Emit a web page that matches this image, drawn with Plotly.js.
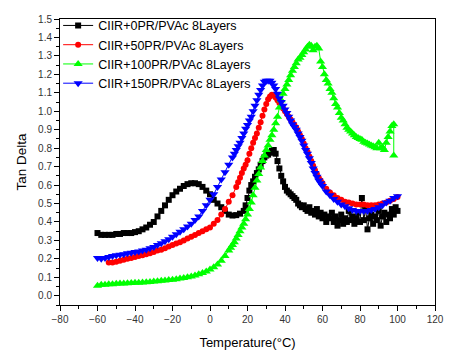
<!DOCTYPE html>
<html>
<head>
<meta charset="utf-8">
<script src="https://cdn.plot.ly/plotly-3.0.1.min.js"></script>
<style>html,body{margin:0;padding:0;background:#fff;}#chart{width:469px;height:361px;}</style>
</head>
<body>
<div id="chart"></div>
<script>
// ---- data ----
const seriesNames = ["CIIR+0PR/PVAc 8Layers","CIIR+50PR/PVAc 8Layers","CIIR+100PR/PVAc 8Layers","CIIR+150PR/PVAc 8Layers"];

const x0 = [-60,-58,-56,-54,-52,-50,-48,-46,-44,-42,-40,-38,-36,-34,-32,-30,-28,-26,-24,-22,-20,-18,-16,-14,-12,-10,-8,-6,-4,-2,0,2,4,6,8,10,12,14,16,18,19,20,21,22,23,24,25,26,27,28,29,30,31,32,33,34,35,36,37,38,39,40,41,42,43,44,45,46,47,48,49,50,51,52,53,54,55,56,57,58,59,60,61,62,63,64,65,66,67,68,69,70,71,72,73,74,75,76,77,78,79,80,81,82,83,84,85,86,87,88,89,90,91,92,93,94,95,96,97,98,99,100];
const y0 = [0.34,0.33,0.33,0.33,0.33,0.335,0.335,0.34,0.34,0.34,0.345,0.35,0.36,0.37,0.385,0.40,0.43,0.46,0.49,0.52,0.545,0.565,0.58,0.595,0.605,0.61,0.61,0.605,0.59,0.57,0.55,0.52,0.50,0.48,0.46,0.44,0.435,0.437,0.445,0.46,0.49,0.53,0.57,0.60,0.62,0.645,0.665,0.685,0.71,0.73,0.75,0.76,0.765,0.775,0.785,0.79,0.77,0.73,0.69,0.65,0.62,0.59,0.57,0.56,0.55,0.54,0.53,0.52,0.50,0.49,0.48,0.49,0.47,0.46,0.48,0.45,0.46,0.44,0.47,0.43,0.45,0.42,0.44,0.40,0.43,0.42,0.45,0.40,0.43,0.38,0.41,0.44,0.39,0.42,0.40,0.46,0.41,0.43,0.39,0.42,0.45,0.40,0.53,0.41,0.47,0.36,0.42,0.44,0.39,0.43,0.41,0.46,0.38,0.43,0.45,0.40,0.44,0.42,0.47,0.44,0.48,0.46];

const x50 = [-54,-52,-50,-48,-46,-44,-42,-40,-38,-36,-34,-32,-30,-28,-26,-24,-22,-20,-18,-16,-14,-12,-10,-8,-6,-4,-2,0,2,4,6,8,10,12,14,15,16,17,18,19,20,21,22,23,24,25,26,27,28,29,30,31,32,33,34,35,36,37,38,39,40,41,42,43,44,45,46,47,48,49,50,51,52,53,54,55,56,57,58,59,60,62,64,66,68,70,72,74,76,78,80,82,84,86,88,90,92,94,96,98,100];
const y50 = [0.18,0.18,0.185,0.19,0.195,0.2,0.205,0.21,0.215,0.22,0.225,0.23,0.237,0.245,0.25,0.258,0.267,0.275,0.283,0.29,0.30,0.31,0.32,0.33,0.34,0.35,0.36,0.37,0.39,0.41,0.44,0.47,0.51,0.545,0.59,0.615,0.64,0.665,0.69,0.71,0.735,0.77,0.80,0.83,0.855,0.88,0.91,0.94,0.975,1.01,1.04,1.065,1.08,1.09,1.085,1.075,1.06,1.045,1.03,1.015,1.0,0.985,0.97,0.955,0.94,0.925,0.91,0.89,0.87,0.85,0.825,0.80,0.78,0.755,0.73,0.705,0.68,0.66,0.64,0.625,0.61,0.58,0.56,0.545,0.53,0.52,0.51,0.505,0.50,0.495,0.495,0.495,0.49,0.49,0.49,0.495,0.50,0.505,0.515,0.525,0.535];

const x100 = [-60,-58,-56,-54,-52,-50,-48,-46,-44,-42,-40,-38,-36,-34,-32,-30,-28,-26,-24,-22,-20,-18,-16,-14,-12,-10,-8,-6,-4,-2,0,2,4,6,8,10,11,12,13,14,15,16,17,18,19,20,21,22,23,24,25,26,27,28,29,30,31,32,33,34,35,36,37,38,39,40,41,42,43,44,45,46,47,48,49,50,51,52,53,54,55,56,57,58,59,60,61,62,63,64,65,66,67,68,69,70,71,72,73,74,75,76,77,78,79,80,81,82,83,84,85,86,87,88,89,90,91,92,93,94,95,96,97,98,98];
const y100 = [0.055,0.06,0.06,0.062,0.063,0.065,0.066,0.067,0.068,0.069,0.07,0.071,0.072,0.073,0.075,0.077,0.079,0.081,0.083,0.085,0.087,0.09,0.093,0.096,0.1,0.104,0.11,0.116,0.123,0.132,0.142,0.155,0.17,0.19,0.215,0.245,0.26,0.275,0.29,0.31,0.33,0.35,0.37,0.39,0.415,0.44,0.47,0.505,0.545,0.585,0.625,0.66,0.695,0.73,0.76,0.79,0.815,0.845,0.87,0.9,0.935,0.97,1.02,1.06,1.095,1.12,1.145,1.17,1.195,1.22,1.24,1.26,1.28,1.29,1.305,1.32,1.335,1.35,1.36,1.355,1.33,1.35,1.355,1.34,1.27,1.24,1.2,1.17,1.15,1.12,1.1,1.07,1.04,1.02,0.99,0.965,0.95,0.93,0.91,0.9,0.89,0.88,0.87,0.86,0.855,0.85,0.845,0.835,0.83,0.825,0.82,0.815,0.81,0.805,0.80,0.83,0.80,0.805,0.79,0.83,0.86,0.89,0.92,0.93,0.76];

const x150 = [-60,-58,-56,-54,-52,-50,-48,-46,-44,-42,-40,-38,-36,-34,-32,-30,-28,-26,-24,-22,-20,-18,-16,-14,-12,-10,-8,-6,-4,-2,0,2,4,6,8,10,12,13,14,15,16,17,18,19,20,21,22,23,24,25,26,27,28,29,30,31,32,33,34,35,36,37,38,39,40,41,42,43,44,45,46,47,48,49,50,51,52,53,54,55,56,57,58,59,60,62,64,66,68,70,72,74,76,78,80,82,84,86,88,90,92,94,96,98,100];
const y150 = [0.205,0.2,0.205,0.21,0.215,0.22,0.222,0.225,0.23,0.233,0.237,0.24,0.245,0.25,0.257,0.265,0.275,0.285,0.295,0.307,0.32,0.333,0.347,0.36,0.375,0.39,0.41,0.43,0.46,0.49,0.52,0.55,0.59,0.63,0.67,0.71,0.75,0.77,0.79,0.81,0.83,0.855,0.88,0.905,0.925,0.95,0.97,1.0,1.03,1.06,1.09,1.115,1.14,1.16,1.165,1.165,1.165,1.155,1.14,1.12,1.095,1.07,1.05,1.03,1.01,0.99,0.97,0.95,0.93,0.915,0.9,0.88,0.86,0.84,0.815,0.79,0.77,0.745,0.72,0.69,0.665,0.645,0.625,0.61,0.595,0.565,0.545,0.525,0.51,0.495,0.485,0.475,0.465,0.46,0.46,0.46,0.46,0.465,0.47,0.48,0.49,0.505,0.515,0.53,0.54];

const xTickVals = [-80,-60,-40,-20,0,20,40,60,80,100,120];
const yTickVals = [0.0,0.1,0.2,0.3,0.4,0.5,0.6,0.7,0.8,0.9,1.0,1.1,1.2,1.3,1.4,1.5];
const yTickText = yTickVals.map(v => v.toFixed(1));

// ---- traces ----
function mk(x, y, name, color, symbol, size) {
  return {
    x: x, y: y, name: name, type: 'scatter', mode: 'lines+markers',
    line: {color: color, width: 1},
    marker: {color: color, symbol: symbol, size: size, line: {width: 0}}
  };
}
const traces = [
  mk(x0, y0, seriesNames[0], '#000000', 'square', 6),
  mk(x50, y50, seriesNames[1], '#ff0000', 'circle', 6),
  mk(x100, y100, seriesNames[2], '#00ff00', 'triangle-up', 8),
  mk(x150, y150, seriesNames[3], '#0000ff', 'triangle-down', 8)
];

const FONT = 'Liberation Sans, Arial, sans-serif';
const axisCommon = {
  showline: true, linecolor: '#000', linewidth: 1, mirror: true,
  showgrid: false, zeroline: false,
  ticks: 'outside', ticklen: 5, tickcolor: '#000', tickwidth: 1,
  tickfont: {family: FONT, size: 10, color: '#333'}
};

const layout = {
  width: 469, height: 361,
  margin: {l: 60, r: 34, t: 18, b: 56},
  paper_bgcolor: '#fff', plot_bgcolor: '#fff',
  font: {family: FONT, color: '#000'},
  showlegend: true,
  legend: {
    x: -0.005, y: 1.025, xanchor: 'left', yanchor: 'top',
    bgcolor: 'rgba(0,0,0,0)', borderwidth: 0,
    font: {family: FONT, size: 12.5, color: '#000'},
    itemwidth: 30, tracegroupgap: 0
  },
  xaxis: Object.assign({}, axisCommon, {
    range: [-80, 120], tickvals: xTickVals,
    minor: {dtick: 10, ticks: 'outside', ticklen: 3, tickcolor: '#000'},
    title: {text: 'Temperature(°C)', font: {size: 13, family: FONT, color: '#000'}, standoff: 13}
  }),
  yaxis: Object.assign({}, axisCommon, {
    range: [-0.05, 1.5], tickvals: yTickVals, ticktext: yTickText,
    minor: {dtick: 0.05, ticks: 'outside', ticklen: 3, tickcolor: '#000'},
    title: {text: 'Tan Delta', font: {size: 13.5, family: FONT, color: '#000'}, standoff: 8}
  })
};

Plotly.newPlot('chart', traces, layout, {displayModeBar: false, staticPlot: true});
</script>
</body>
</html>
